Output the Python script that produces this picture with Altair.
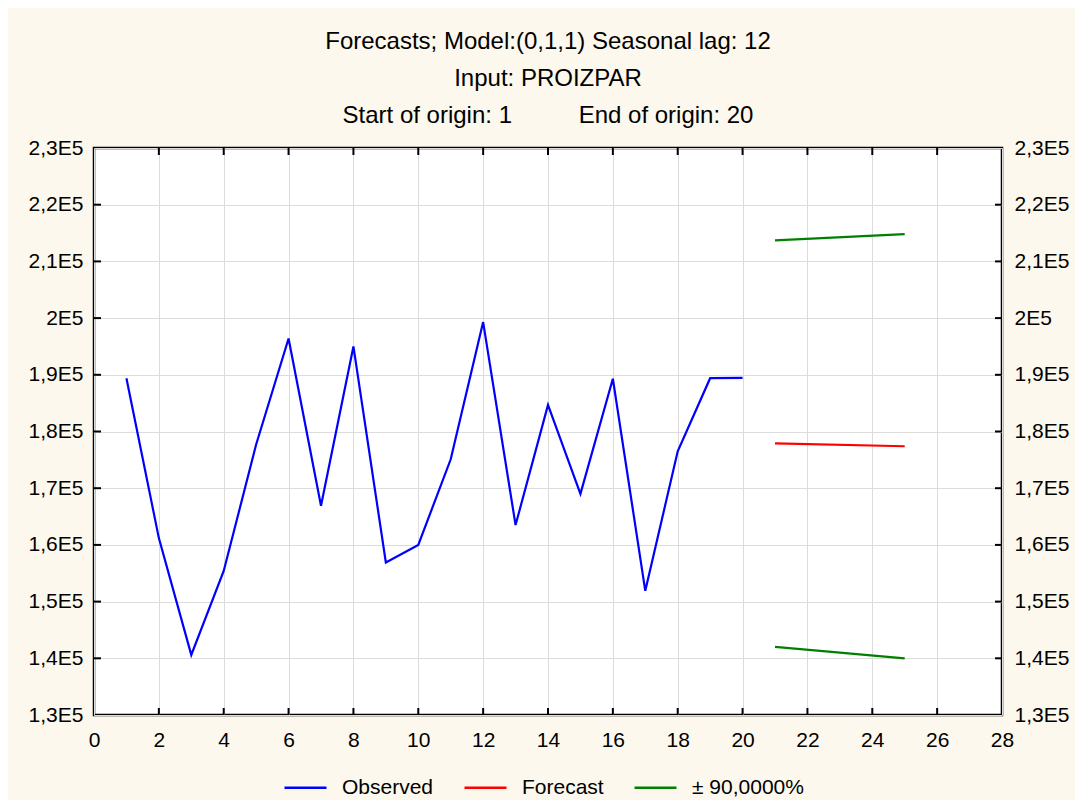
import altair as alt
import pandas as pd

# ---- data ----
obs_x = list(range(1, 21))
obs_y = [189400, 161200, 140600, 155400, 177700, 196400, 166900, 195000, 156900, 160000,
         175100, 199300, 163500, 184700, 169000, 189300, 151900, 176500, 189400, 189450]
fc_x = [21, 25]
fc_y = [177900, 177400]
upper_y = [213700, 214800]
lower_y = [142000, 140000]

series_names = ["Observed", "Forecast", "± 90,0000%"]
series_colors = ["#0000FF", "#FF0000", "#008000"]

y_tick_values = [130000, 140000, 150000, 160000, 170000, 180000, 190000, 200000, 210000, 220000, 230000]
x_tick_values = [0, 2, 4, 6, 8, 10, 12, 14, 16, 18, 20, 22, 24, 26, 28]
inner_y_ticks = [140000, 150000, 160000, 170000, 180000, 190000, 200000, 210000, 220000]
inner_x_ticks = [2, 4, 6, 8, 10, 12, 14, 16, 18, 20, 22, 24, 26]

NB = "\u00a0"
title_lines = ["Forecasts; Model:(0,1,1) Seasonal lag: 12",
               "Input: PROIZPAR",
               "Start of origin: 1" + NB * 10 + "End of origin: 20"]

# ---- build tables ----
rows = []
for x, y in zip(obs_x, obs_y):
    rows.append({"x": x, "y": y, "series": series_names[0], "grp": "obs"})
for x, y in zip(fc_x, fc_y):
    rows.append({"x": x, "y": y, "series": series_names[1], "grp": "fc"})
for x, y in zip(fc_x, upper_y):
    rows.append({"x": x, "y": y, "series": series_names[2], "grp": "up"})
for x, y in zip(fc_x, lower_y):
    rows.append({"x": x, "y": y, "series": series_names[2], "grp": "lo"})
df = pd.DataFrame(rows)
yt = pd.DataFrame({"v": inner_y_ticks})
xt = pd.DataFrame({"v": inner_x_ticks})

W, H = 908, 567
FONT = "Liberation Sans"
LBL = 21

ys = alt.Scale(domain=[130000, 230000], nice=False, zero=False)
xs = alt.Scale(domain=[0, 28], nice=False, zero=False)
label_expr = "replace(format(datum.value/100000, '.1~f'), '.', ',') + 'E5'"

x_axis = alt.Axis(values=x_tick_values, grid=True, gridColor="#DCDCDC", gridWidth=1,
                  domain=False, ticks=False, tickSize=0, labelFont=FONT, labelFontSize=LBL,
                  labelColor="black", labelPadding=14, title=None, labelFlush=False)
y_left_axis = alt.Axis(values=y_tick_values, grid=True, gridColor="#DCDCDC", gridWidth=1,
                       domain=False, ticks=False, tickSize=0, labelFont=FONT, labelFontSize=LBL,
                       labelColor="black", labelPadding=11, title=None, labelExpr=label_expr,
                       labelFlush=False, orient="left")
y_right_axis = alt.Axis(values=y_tick_values, grid=False,
                        domain=False, ticks=False, tickSize=0, labelFont=FONT, labelFontSize=LBL,
                        labelColor="black", labelPadding=12, title=None, labelExpr=label_expr,
                        labelFlush=False, orient="right")

lines = alt.Chart(df).mark_line(strokeWidth=2.2).encode(
    x=alt.X("x:Q", scale=xs, axis=x_axis),
    y=alt.Y("y:Q", scale=ys, axis=y_left_axis),
    color=alt.Color("series:N", scale=alt.Scale(domain=series_names, range=series_colors),
                    legend=alt.Legend(orient="none", legendX=189, legendY=617,
                                      direction="horizontal", title=None, symbolType="stroke",
                                      symbolSize=1764, symbolStrokeWidth=2.5,
                                      labelFont=FONT, labelFontSize=LBL, labelColor="black",
                                      columnPadding=25, labelOffset=14, padding=0,
                                      labelLimit=400)),
    detail="grp:N",
)

left_ticks = alt.Chart(yt).mark_rule(color="black", strokeWidth=2).encode(
    y=alt.Y("v:Q", scale=ys, axis=None), x=alt.value(0), x2=alt.value(7))
right_ticks = alt.Chart(yt).mark_rule(color="black", strokeWidth=2).encode(
    y=alt.Y("v:Q", scale=ys, axis=y_right_axis), x=alt.value(W - 7), x2=alt.value(W))
bottom_ticks = alt.Chart(xt).mark_rule(color="black", strokeWidth=2).encode(
    x=alt.X("v:Q", scale=xs, axis=x_axis), y=alt.value(H - 7), y2=alt.value(H))
top_ticks = alt.Chart(xt).mark_rule(color="black", strokeWidth=2).encode(
    x=alt.X("v:Q", scale=xs, axis=x_axis), y=alt.value(0), y2=alt.value(7))

chart = alt.layer(lines, left_ticks, right_ticks, bottom_ticks, top_ticks).resolve_scale(
    y="independent"
).properties(
    width=W, height=H,
    autosize="none",
    padding={"left": 86, "top": 140, "right": 73, "bottom": 85},
    background="#FDF8ED",
    title=alt.TitleParams(text=title_lines, font=FONT, fontSize=24, fontWeight="normal",
                          color="black", lineHeight=37, offset=9, anchor="middle"),
).configure_view(stroke="black", strokeWidth=2.5, fill="white")

chart.save("out.html", embed_options={"renderer": "svg", "actions": False})
